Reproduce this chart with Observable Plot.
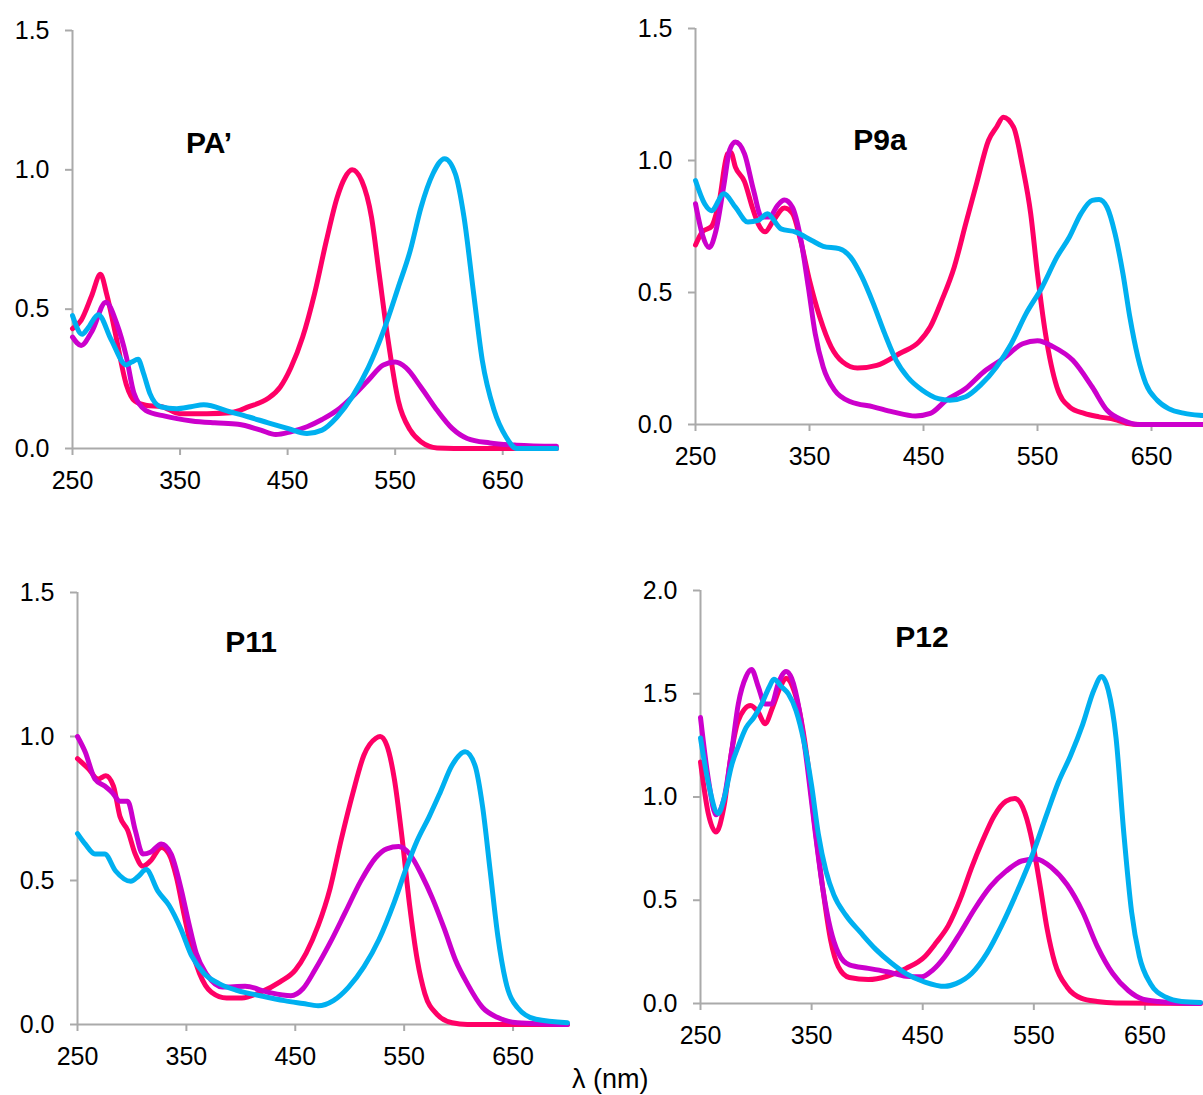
<!DOCTYPE html>
<html>
<head>
<meta charset="utf-8">
<script src="https://cdn.jsdelivr.net/npm/d3@7"></script>
<script src="https://cdn.jsdelivr.net/npm/@observablehq/plot@0.6"></script>
<style>
  html, body { margin: 0; padding: 0; background: #fff; }
  #page { position: relative; width: 1203px; height: 1095px; overflow: hidden; background: #fff;
          font-family: "Liberation Sans", Arial, sans-serif; }
  .panel { position: absolute; }
  .panel svg { max-width: none !important; }
  .title { position: absolute; font-weight: bold; font-size: 30px; color: #000; transform: translate(-50%, -50%); white-space: nowrap; }
  #xlabel { position: absolute; font-size: 27px; color: #000; white-space: nowrap; }
</style>
</head>
<body>
<div id="page"></div>
<script>
// ---------- data: [wavelength nm, absorbance] ----------
const xTicks = [250, 350, 450, 550, 650];
const colors = { red: "#ff0066", purple: "#cc00cc", blue: "#00b0f0" };
const titles = ["PA’", "P9a", "P11", "P12"];

// PA'
const paRed = [[250,0.43],[258,0.46],[268,0.55],[276,0.625],[282,0.55],[290,0.41],[300,0.23],[308,0.17],[318,0.155],[333,0.15],[350,0.125],[375,0.125],[397,0.128],[414,0.15],[432,0.18],[443,0.22],[453,0.29],[464,0.40],[475,0.555],[486,0.745],[496,0.90],[503,0.97],[510,1.0],[519,0.96],[528,0.83],[535,0.63],[543,0.40],[553,0.17],[564,0.066],[574,0.024],[589,0.002],[620,0],[700,0]];
const paPurple = [[250,0.40],[258,0.37],[268,0.42],[281,0.525],[291,0.45],[300,0.33],[307,0.20],[318,0.137],[336,0.116],[361,0.099],[382,0.092],[404,0.087],[425,0.066],[439,0.05],[453,0.06],[468,0.078],[482,0.104],[496,0.137],[510,0.185],[525,0.245],[539,0.30],[550,0.31],[560,0.29],[574,0.22],[589,0.137],[603,0.072],[617,0.036],[638,0.02],[663,0.012],[700,0.008]];
const paBlue = [[250,0.477],[259,0.41],[264,0.43],[274,0.48],[286,0.39],[300,0.30],[305,0.31],[311,0.32],[316,0.27],[322,0.197],[332,0.15],[347,0.143],[360,0.15],[372,0.157],[397,0.131],[414,0.113],[432,0.092],[450,0.072],[468,0.054],[482,0.066],[496,0.113],[510,0.185],[525,0.29],[539,0.42],[553,0.58],[564,0.71],[574,0.865],[585,0.985],[596,1.04],[606,0.985],[614,0.83],[623,0.555],[631,0.316],[642,0.137],[653,0.042],[663,0.0],[700,0]];

// P9a
const p9Red = [[250,0.68],[256,0.73],[264,0.75],[271,0.85],[278,1.025],[281,1.03],[285,0.975],[293,0.92],[300,0.82],[305,0.76],[311,0.73],[318,0.77],[328,0.82],[335,0.80],[342,0.70],[350,0.546],[359,0.407],[369,0.294],[379,0.237],[392,0.214],[409,0.224],[429,0.269],[446,0.313],[456,0.37],[466,0.47],[477,0.597],[487,0.76],[497,0.92],[507,1.076],[514,1.126],[520,1.164],[529,1.126],[537,0.975],[544,0.80],[550,0.57],[557,0.344],[567,0.142],[578,0.067],[591,0.042],[604,0.029],[618,0.019],[628,0.005],[640,0],[700,0]];
const p9Purple = [[250,0.836],[256,0.72],[262,0.67],[268,0.735],[275,0.91],[280,1.04],[285,1.07],[293,1.025],[301,0.886],[308,0.786],[315,0.786],[322,0.83],[328,0.85],[335,0.823],[342,0.71],[349,0.52],[355,0.344],[362,0.218],[372,0.13],[386,0.086],[406,0.067],[423,0.048],[443,0.032],[456,0.042],[470,0.092],[487,0.136],[503,0.20],[520,0.25],[537,0.306],[550,0.317],[564,0.294],[581,0.243],[598,0.142],[611,0.054],[625,0.016],[638,0],[700,0]];
const p9Blue = [[250,0.924],[258,0.836],[264,0.81],[275,0.874],[285,0.823],[296,0.767],[305,0.773],[313,0.798],[325,0.741],[338,0.729],[352,0.697],[362,0.675],[376,0.666],[386,0.634],[396,0.559],[406,0.458],[416,0.344],[426,0.243],[436,0.18],[449,0.13],[463,0.098],[473,0.092],[487,0.105],[500,0.149],[514,0.218],[527,0.306],[540,0.42],[554,0.52],[567,0.634],[578,0.71],[588,0.798],[598,0.849],[604,0.852],[611,0.823],[618,0.723],[625,0.57],[631,0.407],[638,0.256],[645,0.155],[655,0.092],[665,0.06],[679,0.042],[692,0.035],[700,0.033]];

// P11
const p11Red = [[250,0.923],[260,0.888],[269,0.852],[276,0.864],[283,0.828],[289,0.722],[296,0.675],[303,0.592],[310,0.55],[317,0.568],[327,0.615],[334,0.592],[341,0.509],[348,0.379],[355,0.26],[362,0.178],[373,0.112],[387,0.092],[401,0.092],[418,0.112],[436,0.148],[450,0.189],[460,0.248],[471,0.343],[482,0.473],[492,0.639],[503,0.805],[513,0.935],[524,0.994],[528,1.0],[534,0.97],[541,0.852],[548,0.65],[555,0.414],[562,0.225],[569,0.107],[580,0.036],[594,0.006],[608,0],[700,0]];
const p11Purple = [[250,1.0],[257,0.947],[266,0.852],[275,0.828],[282,0.805],[289,0.775],[296,0.775],[303,0.675],[310,0.592],[317,0.598],[327,0.627],[336,0.592],[345,0.473],[352,0.355],[359,0.248],[369,0.172],[383,0.13],[404,0.133],[425,0.112],[446,0.10],[457,0.124],[468,0.189],[482,0.284],[496,0.39],[510,0.497],[524,0.58],[534,0.61],[545,0.618],[555,0.592],[566,0.52],[576,0.438],[587,0.331],[597,0.225],[608,0.142],[622,0.059],[636,0.024],[654,0.006],[700,0]];
const p11Blue = [[250,0.663],[257,0.627],[266,0.592],[275,0.592],[285,0.533],[299,0.497],[306,0.515],[313,0.538],[324,0.462],[334,0.414],[345,0.331],[355,0.237],[366,0.178],[380,0.142],[397,0.118],[418,0.10],[440,0.083],[457,0.073],[471,0.065],[485,0.083],[499,0.13],[513,0.20],[527,0.296],[541,0.426],[552,0.544],[562,0.639],[573,0.722],[583,0.805],[594,0.90],[606,0.947],[615,0.90],[622,0.757],[629,0.533],[636,0.308],[643,0.154],[654,0.059],[671,0.018],[700,0.006]];

// P12
const p12Red = [[250,1.17],[257,0.92],[264,0.83],[271,0.95],[278,1.22],[284,1.37],[295,1.443],[302,1.41],[308,1.355],[315,1.436],[322,1.534],[327,1.575],[334,1.517],[339,1.418],[346,1.187],[353,0.856],[360,0.559],[367,0.31],[374,0.179],[384,0.126],[401,0.116],[418,0.132],[435,0.17],[452,0.228],[462,0.294],[473,0.377],[484,0.509],[494,0.658],[504,0.79],[514,0.906],[525,0.98],[533,0.993],[542,0.922],[549,0.774],[556,0.559],[562,0.36],[569,0.195],[580,0.079],[593,0.025],[607,0.01],[624,0.003],[700,0]];
const p12Purple = [[250,1.385],[257,1.088],[264,0.914],[271,0.988],[278,1.22],[284,1.45],[291,1.583],[296,1.617],[302,1.534],[308,1.45],[314,1.45],[320,1.55],[327,1.608],[332,1.575],[339,1.418],[346,1.154],[353,0.84],[360,0.559],[367,0.36],[374,0.245],[384,0.187],[401,0.17],[418,0.154],[435,0.132],[449,0.129],[459,0.162],[470,0.228],[484,0.344],[497,0.46],[511,0.567],[525,0.641],[539,0.69],[552,0.70],[566,0.658],[580,0.575],[594,0.443],[607,0.278],[621,0.145],[635,0.063],[648,0.021],[662,0.01],[700,0]];
const p12Blue = [[250,1.286],[257,1.07],[266,0.92],[271,0.988],[278,1.154],[284,1.245],[291,1.336],[298,1.385],[305,1.45],[312,1.534],[316,1.57],[323,1.534],[329,1.50],[336,1.418],[343,1.27],[350,1.055],[356,0.823],[363,0.64],[370,0.526],[381,0.426],[394,0.344],[408,0.261],[422,0.195],[435,0.145],[452,0.104],[470,0.083],[480,0.096],[494,0.145],[508,0.245],[521,0.377],[535,0.542],[549,0.724],[562,0.922],[572,1.07],[583,1.20],[594,1.352],[604,1.517],[611,1.583],[617,1.517],[624,1.286],[631,0.823],[638,0.443],[645,0.228],[655,0.096],[669,0.03],[683,0.01],[700,0.005]];

// ---------- layout ----------
const page = document.getElementById("page");

function toRows(arr, key) { return arr.map(([x, y]) => ({x, y, key})); }

function panel(cfg) {
  const rows = [
    ...toRows(cfg.red, "red"),
    ...toRows(cfg.purple, "purple"),
    ...toRows(cfg.blue, "blue")
  ];
  const axisColor = "#aaaaaa";
  const chart = Plot.plot({
    width: cfg.width, height: cfg.height,
    marginLeft: cfg.mL, marginRight: cfg.mR, marginTop: cfg.mT, marginBottom: cfg.mB,
    style: { fontFamily: '"Liberation Sans", Arial, sans-serif', fontSize: "25px", color: "#000", background: "transparent", overflow: "visible" },
    x: { domain: [250, 700], label: null },
    y: { domain: [0, cfg.yMax], label: null },
    marks: [
      Plot.axisX({ ticks: xTicks, tickSize: 7, tickPadding: 16, stroke: axisColor, strokeWidth: 2, fill: "#000", tickFormat: d => String(d), label: null }),
      Plot.axisY({ ticks: cfg.yTicks, tickSize: 7, tickPadding: 16, stroke: axisColor, strokeWidth: 2, fill: "#000", tickFormat: d3.format(".1f"), label: null }),
      Plot.ruleX([250], { stroke: axisColor, strokeWidth: 2 }),
      Plot.ruleY([0], { stroke: axisColor, strokeWidth: 2 }),
      Plot.line(rows, { x: "x", y: "y", z: "key", stroke: d => colors[d.key], strokeWidth: 5, curve: "monotone-x", strokeLinejoin: "round", strokeLinecap: "round" })
    ]
  });
  chart.style.maxWidth = "none";
  chart.style.width = cfg.width + "px";
  chart.style.height = cfg.height + "px";
  const div = document.createElement("div");
  div.className = "panel";
  div.style.left = cfg.left + "px";
  div.style.top = cfg.top + "px";
  div.style.width = cfg.width + "px";
  div.style.height = cfg.height + "px";
  div.appendChild(chart);
  page.appendChild(div);

  const t = document.createElement("div");
  t.className = "title";
  t.textContent = cfg.title;
  t.style.left = cfg.tx + "px";
  t.style.top = cfg.ty + "px";
  page.appendChild(t);
}

panel({ left: 0, top: 0, width: 580, height: 500, mL: 72, mR: 24, mT: 30, mB: 52,
        yMax: 1.5, yTicks: [0, 0.5, 1.0, 1.5], red: paRed, purple: paPurple, blue: paBlue,
        title: titles[0], tx: 209, ty: 143 });
panel({ left: 600, top: 0, width: 620, height: 480, mL: 95, mR: 12, mT: 28, mB: 56,
        yMax: 1.5, yTicks: [0, 0.5, 1.0, 1.5], red: p9Red, purple: p9Purple, blue: p9Blue,
        title: titles[1], tx: 880, ty: 140 });
panel({ left: 0, top: 560, width: 590, height: 520, mL: 77, mR: 23, mT: 32, mB: 56,
        yMax: 1.5, yTicks: [0, 0.5, 1.0, 1.5], red: p11Red, purple: p11Purple, blue: p11Blue,
        title: titles[2], tx: 251, ty: 642 });
panel({ left: 600, top: 560, width: 610, height: 500, mL: 100, mR: 10, mT: 30, mB: 57,
        yMax: 2.0, yTicks: [0, 0.5, 1.0, 1.5, 2.0], red: p12Red, purple: p12Purple, blue: p12Blue,
        title: titles[3], tx: 922, ty: 637 });

const xl = document.createElement("div");
xl.id = "xlabel";
xl.textContent = "λ (nm)";
xl.style.left = "572px";
xl.style.top = "1064px";
page.appendChild(xl);
</script>
</body>
</html>
